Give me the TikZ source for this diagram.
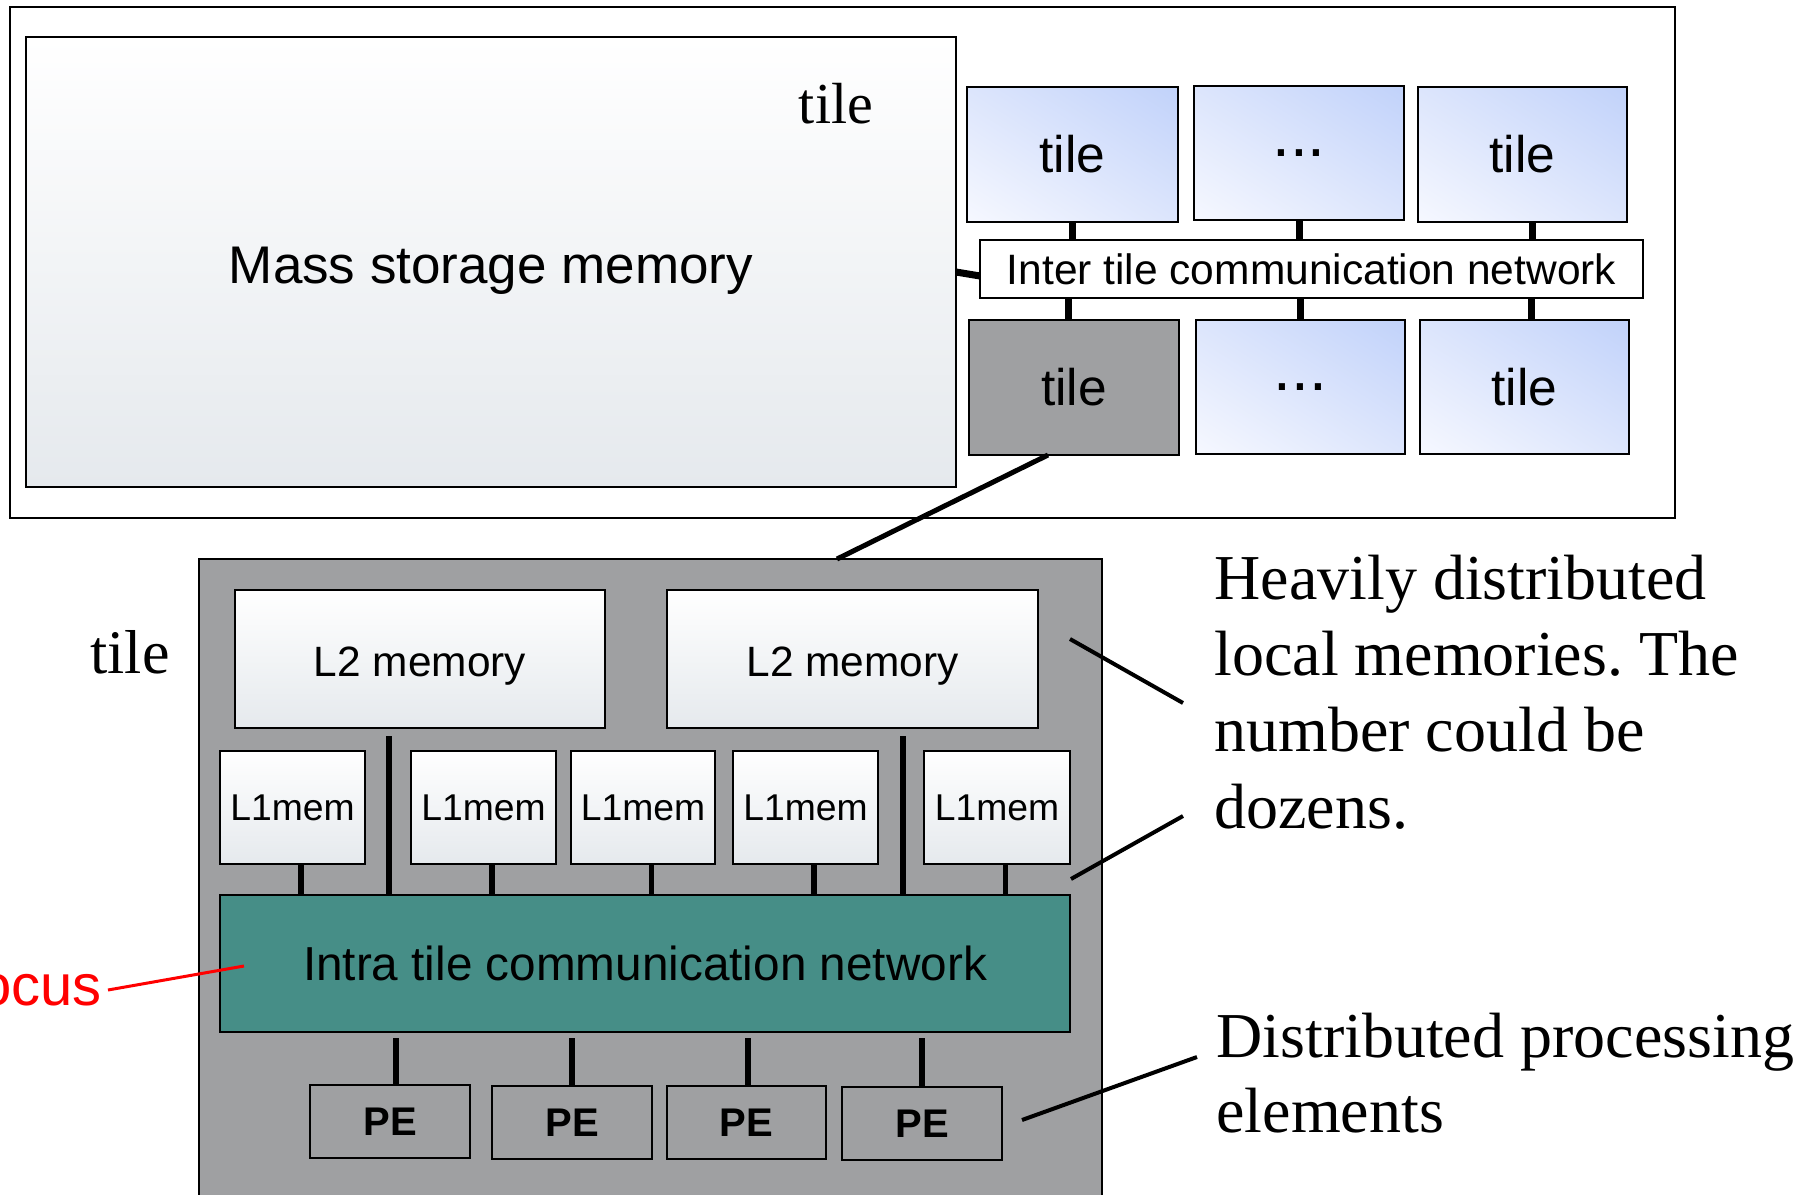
\documentclass[tikz,border=0pt]{standalone}
\usepackage{fontspec}
\setmainfont{Liberation Sans}
\newfontfamily\seriffam{Liberation Serif}
\usetikzlibrary{shadings}
\frenchspacing

\definecolor{tilegray}{RGB}{159,160,162}
\definecolor{netteal}{RGB}{70,142,135}
\definecolor{memlow}{RGB}{229,233,237}
\definecolor{tileblue}{RGB}{193,210,250}
\definecolor{tilemid}{RGB}{220,229,252}
\definecolor{tilepale}{RGB}{246,248,255}
\definecolor{focusred}{RGB}{255,0,0}

\newcommand\fsz[1]{\fontsize{#1}{#1}\selectfont}
% block: style, name, x1, y1, x2, y2, text  (coordinates in pixels, y down)
\newcommand\blk[7]{\node[#1, minimum width={(#5-#3)*0.5pt}, minimum height={(#6-#4)*0.5pt}] (#2) at ({(#3+#5)/2},{(#4+#6)/2}) {#7};}

\tikzset{
  boxbase/.style={draw=black, line width=1.2pt, inner sep=0pt, outer sep=0pt},
  membox/.style={boxbase, top color=white, bottom color=memlow},
  bluebox/.style={boxbase, lower left=tilepale, upper right=tileblue,
                  upper left=tilemid, lower right=tilemid, font=\fsz{25.75}},
  dotsbox/.style={bluebox, font=\fsz{32}},
  graybox/.style={boxbase, fill=tilegray},
  wire/.style={line width=2.75pt},
  thickwire/.style={line width=3.5pt},
  pointer/.style={line width=2pt},
  serifnote/.style={font=\seriffam\fsz{32}, anchor=base west, inner sep=0pt},
}

\begin{document}
\begin{tikzpicture}[x=0.5pt, y=-0.5pt]
\useasboundingbox (0,0) rectangle (1806,1195);
\fill[white] (0,0) rectangle (1806,1195);

% ---------- chip level ----------
\blk{boxbase, line width=1pt, fill=white}{chip}{10}{7}{1675}{518}{}
\blk{membox}{mass}{26}{37}{956}{487}{}
\node[font=\fsz{26.5}] (masstext) at (491,271) {Mass storage memory};
\node[font=\seriffam\fsz{29}, anchor=base] (chiplabel) at (836,123) {tile};

\blk{bluebox}{ta}{967}{87}{1178}{222}{tile}
\blk{dotsbox}{tb}{1194}{86}{1404}{220}{...}
\blk{bluebox}{tc}{1418}{87}{1627}{222}{tile}
\blk{boxbase, fill=white, font=\fsz{21.25}}{inter}{980}{240}{1643}{298}{Inter tile communication network}
\blk{graybox, font=\fsz{25.75}}{td}{969}{320}{1179}{455}{tile}
\blk{dotsbox}{te}{1196}{320}{1405}{454}{...}
\blk{bluebox}{tf}{1420}{320}{1629}{454}{tile}

\draw[thickwire] (ta.south) -- (ta.south |- inter.north);
\draw[thickwire] (tb.south) -- (tb.south |- inter.north);
\draw[thickwire] ([xshift=5pt]tc.south) -- ([xshift=5pt]tc.south |- inter.north);
\draw[thickwire] ([xshift=-2.75pt]td.north) -- ([xshift=-2.75pt]td.north |- inter.south);
\draw[thickwire] (te.north) -- (te.north |- inter.south);
\draw[thickwire] ([xshift=3.5pt]tf.north) -- ([xshift=3.5pt]tf.north |- inter.south);
\draw[thickwire] ([yshift=-5pt]mass.east) -- ([yshift=-3.5pt]inter.west);

% ---------- tile level ----------
\blk{graybox}{tile}{199}{559}{1102}{1230}{}
\draw[line width=2.5pt] ([xshift=-13pt]td.south) -- ([xshift=93.25pt]tile.north);
\node[font=\seriffam\fsz{31}, anchor=base] (tilelabel) at (130,673) {tile};

\blk{membox, font=\fsz{21.2}, text depth=0pt, text height=17pt}{l2a}{235}{590}{605}{728}{L2 memory}
\blk{membox, font=\fsz{21.2}, text depth=0pt, text height=17pt}{l2b}{667}{590}{1038}{728}{L2 memory}

\blk{membox, font=\fsz{18.65}}{l1a}{220}{751}{365}{864}{L1mem}
\blk{membox, font=\fsz{18.65}}{l1b}{411}{751}{556}{864}{L1mem}
\blk{membox, font=\fsz{18.65}}{l1c}{571}{751}{715}{864}{L1mem}
\blk{membox, font=\fsz{18.65}}{l1d}{733}{751}{878}{864}{L1mem}
\blk{membox, font=\fsz{18.65}}{l1e}{924}{751}{1070}{864}{L1mem}

\blk{boxbase, fill=netteal, font=\fsz{23.85}}{intra}{220}{895}{1070}{1032}{Intra tile communication network}

\blk{graybox, font=\bfseries\fsz{20}}{pea}{310}{1085}{470}{1158}{PE}
\blk{graybox, font=\bfseries\fsz{20}}{peb}{492}{1086}{652}{1159}{PE}
\blk{graybox, font=\bfseries\fsz{20}}{pec}{667}{1086}{826}{1159}{PE}
\blk{graybox, font=\bfseries\fsz{20}}{ped}{842}{1087}{1002}{1160}{PE}

% L1 memories to the intra tile network
\foreach \m in {l1a,l1b,l1c,l1d,l1e}
  \draw[wire] ([xshift=4.25pt]\m.south) -- ([xshift=4.25pt]\m.south |- intra.north);
% L2 buses
\coordinate (busa) at (389,736);
\coordinate (busb) at (903,736);
\draw[wire] (busa) -- (busa |- intra.north);
\draw[wire] (busb) -- (busb |- intra.north);
% processing elements
\draw[wire] ([xshift=3pt]pea.north) -- ([xshift=3pt]pea.north |- 0,1038);
\draw[wire] (peb.north) -- (peb.north |- 0,1038);
\draw[wire] ([xshift=0.75pt]pec.north) -- ([xshift=0.75pt]pec.north |- 0,1038);
\draw[wire] (ped.north) -- (ped.north |- 0,1038);

% ---------- annotations ----------
\coordinate (ma) at (1070,639);
\coordinate (mb) at (1183,703);
\coordinate (mc) at (1071,879);
\coordinate (md) at (1183,816);
\coordinate (pa) at (1022,1120);
\coordinate (pb) at (1197,1057);
\draw[pointer] (ma) -- (mb);
\draw[pointer] (mc) -- (md);
\draw[pointer] (pa) -- (pb);

\node[serifnote] (n1) at (1214,599) {Heavily distributed};
\node[serifnote] (n2) at (1214,675) {local memories. The};
\node[serifnote] (n3) at (1214,751) {number could be};
\node[serifnote] (n4) at (1214,828) {dozens.};
\node[serifnote] (n5) at (1216,1057) {Distributed processing};
\node[serifnote] (n6) at (1216,1132) {elements};

\node[font=\fsz{29}, text=focusred, anchor=base east, inner sep=0pt] (focus) at (102,1005) {Focus};
\coordinate (fa) at (108,990);
\coordinate (fb) at (244,966);
\draw[focusred, line width=1.5pt] (fa) -- (fb);
\end{tikzpicture}
\end{document}
